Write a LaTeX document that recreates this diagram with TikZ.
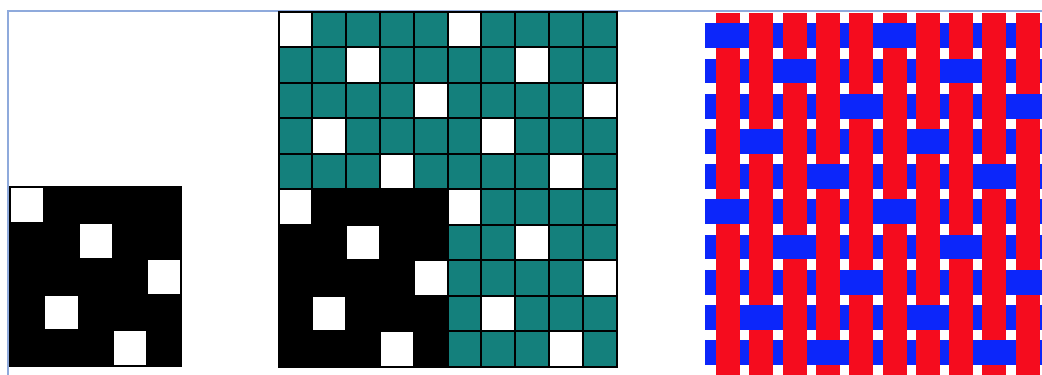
\documentclass[tikz,border=0pt]{standalone}
\usepackage{tikz}
\definecolor{tealcell}{RGB}{20,128,124}
\definecolor{warpred}{RGB}{245,12,30}
\definecolor{weftblue}{RGB}{12,38,250}
\definecolor{frameblue}{RGB}{143,170,220}

\begin{document}
\begin{tikzpicture}[x=1pt, y=-1pt, cell/.style={draw=black, line width=2pt}]
  \useasboundingbox (0,0) rectangle (1042,375);
  \draw[frameblue, line width=1.6pt] (8,375) -- (8,10.7) -- (1042,10.7);
  \foreach \r in {0,...,4}
    \foreach \c in {0,...,4} {
      \pgfmathtruncatemacro{\sel}{mod(\c+20-2*\r,5)==0}
      \ifnum\sel=1 \def\cellcol{white}\else \def\cellcol{black}\fi
      \draw[cell, fill=\cellcol] ({10.3+34.14*\c},{187.3+35.74*\r}) rectangle ++(34.14,35.74);
    }
  \foreach \r in {0,...,9}
    \foreach \c in {0,...,9} {
      \pgfmathtruncatemacro{\sel}{mod(\c+20-2*\r,5)==0 ? 1 : ((\r>4 && \c<5) ? 2 : 0)}
      \ifcase\sel \def\cellcol{tealcell}\or \def\cellcol{white}\or \def\cellcol{black}\fi
      \draw[cell, fill=\cellcol] ({278.5+33.8*\c},{11.7+35.5*\r}) rectangle ++(33.8,35.5);
    }
  \begin{scope}
    \clip (0,0) rectangle (1042,375);
    \foreach \r in {0,...,9}
      \fill[weftblue] (705,{23.3+35.2*\r}) rectangle ++(360,24.8);
    \foreach \c in {0,...,10}
      \fill[warpred] ({716+33.3*\c},12.7) rectangle ++(24,380);
    \foreach \r in {0,...,9}
      \foreach \c in {0,...,10} {
        \pgfmathtruncatemacro{\over}{mod(\c+20-2*\r,5)==0}
        \ifnum\over=1
          \fill[weftblue] ({715+33.3*\c},{23.3+35.2*\r}) rectangle ++(26,24.8);
        \fi
      }
  \end{scope}
\end{tikzpicture}
\end{document}
